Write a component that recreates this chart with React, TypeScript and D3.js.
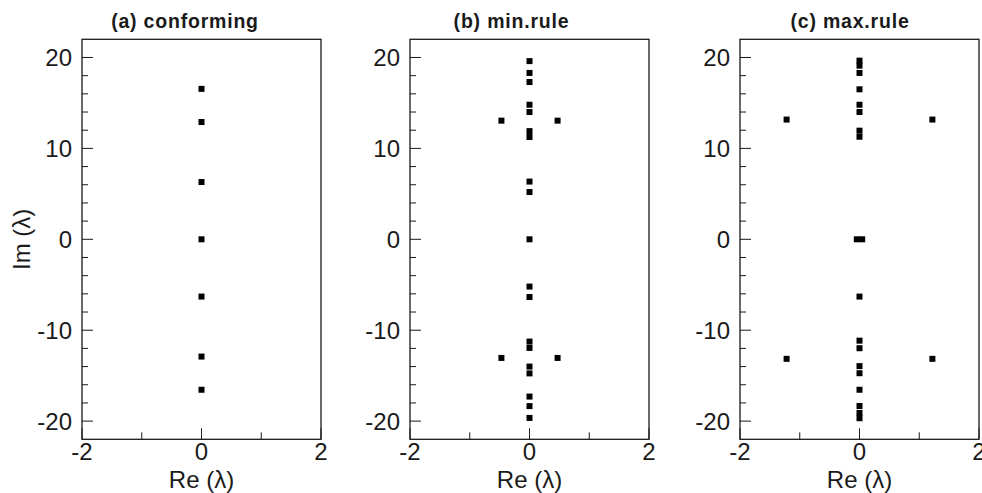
import React from "react";
import * as d3 from "d3";

const panelTitles = ["(a) conforming", "(b) min.rule", "(c) max.rule"];

const conformingRe = [0, 0, 0, 0, 0, 0, 0];
const conformingIm = [16.55, 12.9, 6.3, 0, -6.3, -12.9, -16.55];

const minRuleRe = [
  0, 0, 0, 0, 0, 0, 0, 0, 0, 0, 0, 0, 0, 0, 0, 0, 0, 0, 0,
  -0.47, 0.47, -0.47, 0.47,
];
const minRuleIm = [
  19.6, 18.3, 17.3, 14.8, 14.0, 11.9, 11.25, 6.35, 5.2, 0,
  -5.2, -6.35, -11.25, -11.95, -14.0, -14.75, -17.3, -18.35, -19.65,
  13.05, 13.05, -13.05, -13.05,
];

const maxRuleRe = [
  0, 0, 0, 0, 0, 0, 0, 0, -0.045, 0.045,
  0, 0, 0, 0, 0, 0, 0, 0, 0,
  -1.22, 1.22, -1.22, 1.22,
];
const maxRuleIm = [
  19.65, 19.1, 18.3, 16.5, 14.8, 14.0, 11.95, 11.28, 0, 0,
  -6.3, -11.15, -11.98, -13.95, -14.73, -16.55, -18.34, -19.1, -19.68,
  13.17, 13.17, -13.15, -13.15,
];

const xMajorTicks = [-2, 0, 2];
const xMinorTicks = [-1, 1];
const yMajorTicks = [-20, -10, 0, 10, 20];
const yMinorTicks = [-18, -16, -14, -12, -8, -6, -4, -2, 2, 4, 6, 8, 12, 14, 16, 18];

const xLabel = "Re (λ)";
const yLabel = "Im (λ)";

const panels = [
  { title: panelTitles[0], re: conformingRe, im: conformingIm, left: 82, titleX: 185 },
  { title: panelTitles[1], re: minRuleRe, im: minRuleIm, left: 410, titleX: 511.5 },
  { title: panelTitles[2], re: maxRuleRe, im: maxRuleIm, left: 740, titleX: 850 },
];

const FONT = "'Liberation Sans', Arial, Helvetica, sans-serif";
const TOP = 39.3;
const BOTTOM = 439.3;
const WIDTH = 239;
const MARK = 6;
const INK = "#1a1a1a";

function Panel({ p, showY }: { p: typeof panels[number]; showY: boolean }) {
  const x = d3.scaleLinear().domain([-2, 2]).range([p.left, p.left + WIDTH]);
  const y = d3.scaleLinear().domain([-22, 22]).range([BOTTOM, TOP]);
  const pts = d3.zip(p.re, p.im) as [number, number][];
  return (
    <g>
      <text
        x={p.titleX}
        y={28}
        textAnchor="middle"
        fontFamily={FONT}
        fontWeight="bold"
        fontSize={19.5}
        letterSpacing={0.8}
        fill={INK}
      >
        {p.title}
      </text>
      {yMajorTicks.map((t) => (
        <g key={"ym" + t}>
          <line x1={x(-2)} x2={x(-2) + 11} y1={y(t)} y2={y(t)} stroke={INK} strokeWidth={1} />
          <text
            x={x(-2) - 10}
            y={y(t)}
            textAnchor="end"
            dominantBaseline="central"
            fontFamily={FONT}
            fontSize={24}
            fill={INK}
          >
            {t}
          </text>
        </g>
      ))}
      {yMinorTicks.map((t) => (
        <line key={"yn" + t} x1={x(-2)} x2={x(-2) + 6} y1={y(t)} y2={y(t)} stroke={INK} strokeWidth={1} />
      ))}
      {xMajorTicks.map((t) => (
        <g key={"xm" + t}>
          <line x1={x(t)} x2={x(t)} y1={y(-22)} y2={y(-22) - 11} stroke={INK} strokeWidth={1} />
          <text
            x={x(t)}
            y={460}
            textAnchor="middle"
            fontFamily={FONT}
            fontSize={24}
            fill={INK}
          >
            {t}
          </text>
        </g>
      ))}
      {xMinorTicks.map((t) => (
        <line key={"xn" + t} x1={x(t)} x2={x(t)} y1={y(-22)} y2={y(-22) - 7} stroke={INK} strokeWidth={1} />
      ))}
      <rect
        x={x(-2)}
        y={y(22)}
        width={x(2) - x(-2)}
        height={y(-22) - y(22)}
        fill="none"
        stroke={INK}
        strokeWidth={1.3}
      />
      {pts.map(([re, im], i) => (
        <rect
          key={"pt" + i}
          x={x(re) - MARK / 2}
          y={y(im) - MARK / 2}
          width={MARK}
          height={MARK}
          fill="#000"
        />
      ))}
      <text
        x={(x(-2) + x(2)) / 2}
        y={488}
        textAnchor="middle"
        fontFamily={FONT}
        fontSize={24}
        fill={INK}
      >
        {xLabel}
      </text>
      {showY && (
        <text
          transform={`translate(30, ${(y(22) + y(-22)) / 2}) rotate(-90)`}
          textAnchor="middle"
          fontFamily={FONT}
          fontSize={24}
          fill={INK}
        >
          {yLabel}
        </text>
      )}
    </g>
  );
}

export default function App() {
  return (
    <svg
      width={982}
      height={493}
      viewBox="0 0 982 493"
      style={{ position: "absolute", left: 0, top: 0, background: "#fff" }}
    >
      <rect x={0} y={0} width={982} height={493} fill="#fff" />
      {panels.map((p, i) => (
        <Panel key={i} p={p} showY={i === 0} />
      ))}
    </svg>
  );
}
